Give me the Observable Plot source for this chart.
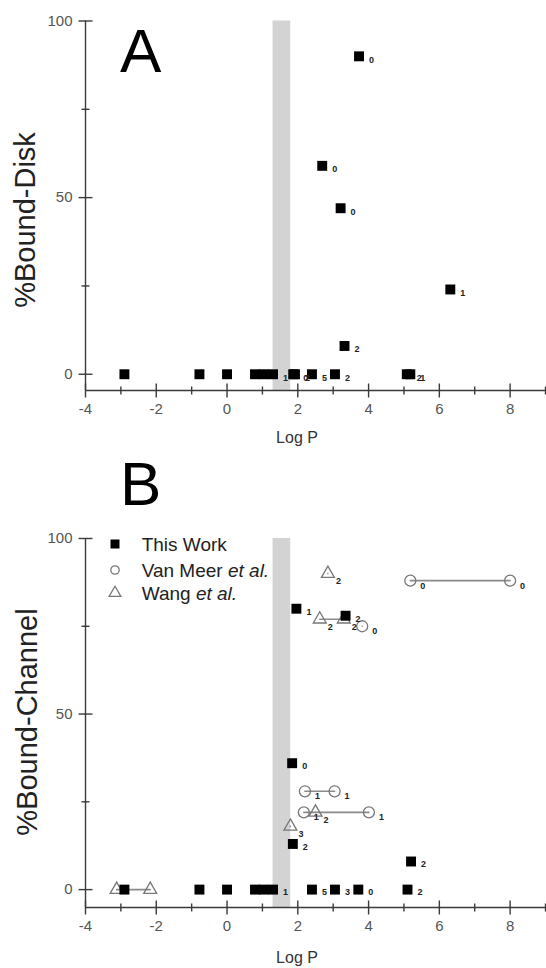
<!DOCTYPE html>
<html><head><meta charset="utf-8">
<script src="https://cdn.jsdelivr.net/npm/d3@7"></script>
<script src="https://cdn.jsdelivr.net/npm/@observablehq/plot@0.6"></script>
<style>
html,body{margin:0;padding:0;background:#fff;}
#wrap{position:relative;width:546px;height:968px;overflow:hidden;font-family:"Liberation Sans",Arial,sans-serif;}
#wrap > svg{display:block}
#overlay{position:absolute;left:0;top:0;pointer-events:none}
</style></head><body><div id="wrap"></div>
<script>
// ---------- data ----------
// Panel A: %Bound-Disk, this work
const aLogP  = [-2.9, -0.78, 0, 0.79, 1.04, 1.3, 1.87, 1.92, 2.4, 3.05, 5.08, 5.18, 3.32, 6.31, 3.21, 2.69, 3.73];
const aBound = [0, 0, 0, 0, 0, 0, 0, 0, 0, 0, 0, 0, 8, 24, 47, 59, 90];
const aLabel = ["", "", "", "", "", "1", "0", "2", "5", "2", "2", "1", "2", "1", "0", "0", "0"];

// Panel B: %Bound-Channel, this work
const bLogP  = [-2.9, -0.78, 0, 0.79, 1.04, 1.3, 2.4, 3.05, 3.71, 5.1, 5.2, 1.86, 1.84, 1.96, 3.35];
const bBound = [0, 0, 0, 0, 0, 0, 0, 0, 0, 0, 8, 13, 36, 80, 78];
const bLabel = ["", "", "", "", "", "1", "5", "3", "0", "2", "2", "2", "0", "1", "2"];

// Panel B: Van Meer et al. (circles; same group = joined range)
const vmLogP  = [5.18, 8.0, 2.2, 3.04, 2.17, 4.01, 3.82];
const vmBound = [88, 88, 28, 28, 22, 22, 75];
const vmLabel = ["0", "0", "1", "1", "1", "1", "0"];
const vmGroup = ["a", "a", "b", "b", "c", "c", "d"];

// Panel B: Wang et al. (triangles)
const wLogP  = [2.85, 2.62, 3.3, 2.5, 1.79, -3.12, -2.17];
const wBound = [90, 77, 77, 22, 18, 0, 0];
const wLabel = ["2", "2", "2", "2", "3", "", ""];
const wGroup = ["a", "b", "b", "c", "d", "e", "e"];

// Shaded logP band
const bandLo = [1.3];
const bandHi = [1.8];

// Axis ticks
const xMajor = [-4, -2, 0, 2, 4, 6, 8];
const xMinor = [-3, -1, 1, 3, 5, 7, 9];
const yMajor = [0, 50, 100];
const yMinor = [25, 75];

const legendNames = ["This Work", "Van Meer ", "Wang "];

// ---------- helpers ----------
const rows = (xs, ys, ls, gs) => xs.map((x, i) => ({x, y: ys[i], label: ls ? ls[i] : "", g: gs ? gs[i] : null}));
const vTick = {draw(ctx, size) { const l = Math.sqrt(size / Math.PI); ctx.moveTo(0, -l); ctx.lineTo(0, l); }};
const hTick = {draw(ctx, size) { const l = Math.sqrt(size / Math.PI); ctx.moveTo(-l, 0); ctx.lineTo(l, 0); }};
const AX = "#3a3a3a";
const lbl = (dx, dy) => ({x: "x", y: "y", text: "label", dx, dy, textAnchor: "start", fontSize: 9, fontWeight: "bold", fill: "#222"});

function axes(yMin) {
  return [
    Plot.ruleX([-4], {stroke: AX, strokeWidth: 1.4}),
    Plot.ruleY([yMin], {stroke: AX, strokeWidth: 1.4}),
    Plot.dot(xMajor, {x: d => d, frameAnchor: "bottom", symbol: vTick, r: 7, stroke: AX, strokeWidth: 1.4}),
    Plot.dot(xMinor, {x: d => d, frameAnchor: "bottom", symbol: vTick, r: 4, stroke: AX, strokeWidth: 1.4}),
    Plot.dot(yMajor, {y: d => d, frameAnchor: "left", symbol: hTick, r: 7, stroke: AX, strokeWidth: 1.4}),
    Plot.dot(yMinor, {y: d => d, frameAnchor: "left", symbol: hTick, r: 4, stroke: AX, strokeWidth: 1.4}),
    Plot.axisX(xMajor, {tickSize: 0, tickPadding: 13, label: null, tickFormat: d => String(d), color: "#555", fontSize: 15}),
    Plot.axisY(yMajor, {tickSize: 0, tickPadding: 13, label: null, tickFormat: d => String(d), color: "#555", fontSize: 15})
  ];
}

const band = Plot.rect(bandLo.map((d, i) => ({lo: d, hi: bandHi[i]})), {x1: "lo", x2: "hi", fill: "#d3d3d3"});
const common = {
  width: 546, height: 484, marginLeft: 85, marginRight: 1,
  x: {domain: [-4, 9]},
  style: {fontFamily: "Liberation Sans, Arial, sans-serif", fontSize: "15px", background: "white"}
};

// ---------- panel A ----------
const aData = rows(aLogP, aBound, aLabel);
const yMinA = -4.6;
const plotA = Plot.plot({
  ...common, marginTop: 20.5, marginBottom: 94,
  y: {domain: [yMinA, 100]},
  marks: [
    band,
    Plot.dot(aData, {x: "x", y: "y", symbol: "square", r: 5.6, fill: "#000"}),
    Plot.text(aData, lbl(10, 3.5)),
    ...axes(yMinA)
  ]
});

// ---------- panel B ----------
const bData = rows(bLogP, bBound, bLabel);
const vmData = rows(vmLogP, vmBound, vmLabel, vmGroup);
const wData = rows(wLogP, wBound, wLabel, wGroup);
const yMinB = -5.1;
const plotB = Plot.plot({
  ...common, marginTop: 54, marginBottom: 61,
  y: {domain: [yMinB, 100]},
  marks: [
    band,
    Plot.line(vmData, {x: "x", y: "y", z: "g", stroke: "#8a8a8a", strokeWidth: 1.6}),
    Plot.line(wData, {x: "x", y: "y", z: "g", stroke: "#8a8a8a", strokeWidth: 1.6}),
    Plot.dot(vmData, {x: "x", y: "y", symbol: "circle", r: 5.5, stroke: "#777", strokeWidth: 1.3, fill: "none"}),
    Plot.dot(wData, {x: "x", y: "y", symbol: "triangle", r: 4.8, stroke: "#777", strokeWidth: 1.3, fill: "none"}),
    Plot.dot(bData, {x: "x", y: "y", symbol: "square", r: 5.6, fill: "#000"}),
    Plot.text(vmData, lbl(10, 5)),
    Plot.text(wData, lbl(8, 7.5)),
    Plot.text(bData, lbl(10, 3)),
    ...axes(yMinB)
  ]
});

const wrap = document.getElementById("wrap");
wrap.appendChild(plotA);
wrap.appendChild(plotB);

// ---------- overlay texts & legend ----------
const ov = d3.select(wrap).append("svg").attr("id", "overlay")
  .attr("width", 546).attr("height", 968)
  .style("font-family", "Liberation Sans, Arial, sans-serif");

ov.append("text").attr("x", 120).attr("y", 72).attr("font-size", 62).attr("fill", "#000").text("A");
ov.append("text").attr("x", 120).attr("y", 505).attr("font-size", 62).attr("fill", "#000").text("B");

ov.append("text").attr("transform", "translate(35,220) rotate(-90)").attr("text-anchor", "middle")
  .attr("font-size", 29).attr("fill", "#222").text("%Bound-Disk");
ov.append("text").attr("transform", "translate(37,722) rotate(-90)").attr("text-anchor", "middle")
  .attr("font-size", 29).attr("fill", "#222").text("%Bound-Channel");

ov.append("text").attr("x", 297).attr("y", 443).attr("text-anchor", "middle").attr("font-size", 16).attr("fill", "#333").text("Log P");
ov.append("text").attr("x", 297).attr("y", 963).attr("text-anchor", "middle").attr("font-size", 16).attr("fill", "#333").text("Log P");

const legY = [544, 570, 593];
const g = ov.append("g");
g.append("path").attr("transform", `translate(115,${legY[0]})`).attr("d", d3.symbol(d3.symbolSquare, 81)()).attr("fill", "#000");
g.append("path").attr("transform", `translate(115,${legY[1]})`).attr("d", d3.symbol(d3.symbolCircle, 55)()).attr("fill", "none").attr("stroke", "#777").attr("stroke-width", 1.3);
g.append("path").attr("transform", `translate(115,${legY[2]})`).attr("d", d3.symbol(d3.symbolTriangle, 60)()).attr("fill", "none").attr("stroke", "#777").attr("stroke-width", 1.3);
legendNames.forEach((name, i) => {
  const t = g.append("text").attr("x", 141.7).attr("y", legY[i] + 7).attr("font-size", 19).attr("fill", "#222");
  t.append("tspan").text(name);
  if (i > 0) t.append("tspan").attr("font-style", "italic").text("et al.");
});
</script></body></html>
